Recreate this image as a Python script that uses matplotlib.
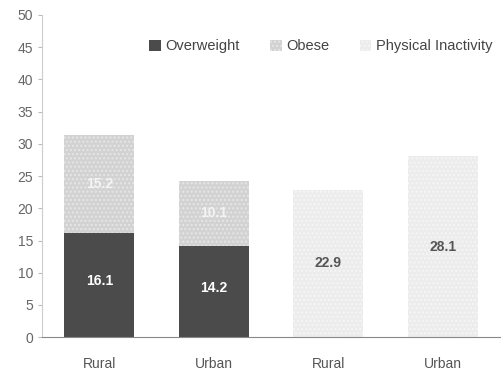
import numpy as np
import matplotlib.pyplot as plt

plt.rcParams['font.family'] = ['Liberation Sans', 'DejaVu Sans']

categories = ["Rural", "Urban", "Rural", "Urban"]
overweight = [16.1, 14.2, 0, 0]
obese = [15.2, 10.1, 0, 0]
inactivity = [0, 0, 22.9, 28.1]

fig = plt.figure(figsize=(5.02, 3.73), dpi=100)
ax = fig.add_axes([0.084, 0.096, 0.912, 0.864])

x = np.arange(len(categories))
w = 0.61
ow = np.array(overweight)
ob = np.array(obese)
pi = np.array(inactivity)

ax.bar(x, ow, w, color="#4b4b4b", label="Overweight")
ax.bar(x, ob, w, bottom=ow, color="#d2d2d2", hatch="....",
       edgecolor="#e6e6e6", linewidth=0, label="Obese")
ax.bar(x, pi, w, color="#ececec", hatch="....", edgecolor="#f6f6f6",
       linewidth=0, label="Physical Inactivity")

# value labels in the middle of each segment
for i in range(len(x)):
    if ow[i] > 0:
        ax.text(x[i], ow[i] / 2 + 0.6, "%.1f" % ow[i], ha="center", va="center",
                color="white", fontsize=10, fontweight="bold")
    if ob[i] > 0:
        ax.text(x[i], ow[i] + ob[i] / 2, "%.1f" % ob[i], ha="center",
                va="center", color="#f4f4f4", fontsize=10, fontweight="bold")
    if pi[i] > 0:
        ax.text(x[i], pi[i] / 2, "%.1f" % pi[i], ha="center", va="center",
                color="#555555", fontsize=10, fontweight="bold")

ax.set_xlim(-0.5, 3.5)
ax.set_ylim(0, 50)
ax.set_yticks(np.arange(0, 51, 5))
ax.set_xticks(x)
ax.set_xticklabels(categories)
ax.tick_params(axis="y", labelsize=10, colors="#666666", length=3, color="#bbbbbb")
ax.tick_params(axis="x", labelsize=10, colors="#555555", length=0, pad=14)

for s in ["top", "right"]:
    ax.spines[s].set_visible(False)
ax.spines["left"].set_color("#cccccc")
ax.spines["bottom"].set_color("#888888")

ax.legend(loc="upper right", bbox_to_anchor=(1.012, 0.965), ncol=3,
          frameon=False, fontsize=10.5, handlelength=0.8, handleheight=0.8,
          handletextpad=0.3, columnspacing=2.1, labelcolor="#444444")

plt.savefig("out.png", dpi=100)
